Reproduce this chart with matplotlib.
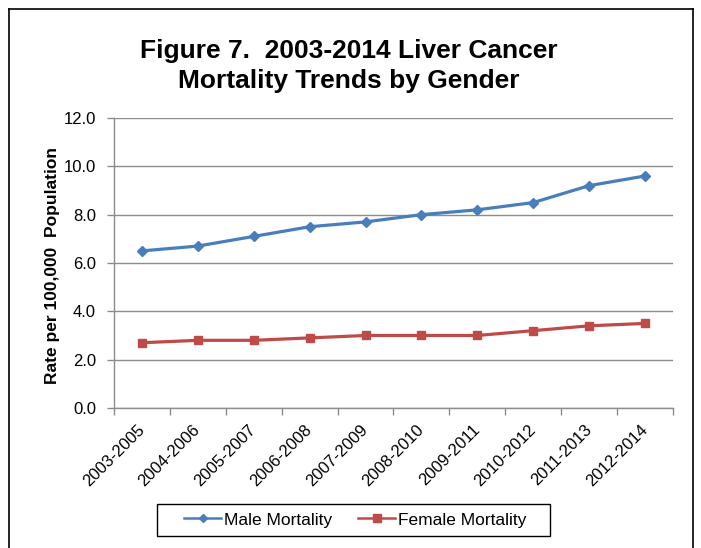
import matplotlib
matplotlib.use('Agg')
import matplotlib.pyplot as plt
from matplotlib.lines import Line2D
from matplotlib.patches import Rectangle

plt.rcParams['font.family'] = ['Liberation Sans', 'DejaVu Sans']

# data
periods = ['2003-2005', '2004-2006', '2005-2007', '2006-2008', '2007-2009',
           '2008-2010', '2009-2011', '2010-2012', '2011-2013', '2012-2014']
male = [6.5, 6.7, 7.1, 7.5, 7.7, 8.0, 8.2, 8.5, 9.2, 9.6]
female = [2.7, 2.8, 2.8, 2.9, 3.0, 3.0, 3.0, 3.2, 3.4, 3.5]
yticks = [0, 2, 4, 6, 8, 10, 12]

fig = plt.figure(figsize=(7.01, 5.48), dpi=100)
ax = fig.add_axes([0.1626, 0.2555, 0.7974, 0.5292])

x = list(range(len(periods)))
ax.plot(x, male, color='#4A7EBB', lw=2.3, marker='D', ms=5.5, label='Male Mortality')
ax.plot(x, female, color='#BE4B48', lw=2.3, marker='s', ms=6, label='Female Mortality')

ax.set_xlim(-0.5, len(periods) - 0.5)
ax.set_ylim(0, 12)
ax.set_yticks(yticks)
ax.set_yticklabels(['%.1f' % v for v in yticks], fontsize=12)
ax.grid(axis='y', color='#8C8C8C', lw=1)
ax.set_axisbelow(True)

ax.set_xticks(x)
ax.set_xticklabels(periods, rotation=45, ha='right', va='center',
                   rotation_mode='anchor', fontsize=12)
ax.set_xticks([i - 0.5 for i in range(len(periods) + 1)], minor=True)
ax.tick_params(axis='x', which='major', length=0, pad=14)
ax.tick_params(axis='x', which='minor', length=5, color='#8C8C8C', width=1)
ax.tick_params(axis='y', length=5, color='#8C8C8C', width=1, pad=8)

for s in ['top', 'right']:
    ax.spines[s].set_visible(False)
for s in ['left', 'bottom']:
    ax.spines[s].set_color('#8C8C8C')
    ax.spines[s].set_linewidth(1)

ax.set_ylabel('Rate per 100,000  Population', fontsize=12.5, fontweight='bold')
ax.yaxis.set_label_coords(-0.0966, 0.49)

fig.text(0.497, 0.8796, 'Figure 7.  2003-2014 Liver Cancer\nMortality Trends by Gender',
         ha='center', va='center', fontsize=19, fontweight='bold', linespacing=1.33)

# legend (frame drawn separately)
h1 = Line2D([], [], color='#4A7EBB', lw=1.8, marker='D', ms=4.5)
h2 = Line2D([], [], color='#BE4B48', lw=1.8, marker='s', ms=5.5)
fig.legend([h1, h2], ['Male Mortality', 'Female Mortality'], loc='center',
           bbox_to_anchor=(0.5071, 0.0511), ncol=2, fontsize=12.5, frameon=False,
           handlelength=2.13, handletextpad=0.17, columnspacing=1.5, borderpad=0)
fig.add_artist(Rectangle((157 / 701, 1 - 536 / 548), 393 / 701, 32 / 548,
                         transform=fig.transFigure, fill=False, edgecolor='black', lw=1))

# chart border
bx0, bx1, by1 = 9 / 701, 693 / 701, 1 - 9 / 548
fig.add_artist(Line2D([bx0, bx1], [by1, by1], transform=fig.transFigure, color='black', lw=1.2))
fig.add_artist(Line2D([bx0, bx0], [by1, -0.01], transform=fig.transFigure, color='black', lw=1.2))
fig.add_artist(Line2D([bx1, bx1], [by1, -0.01], transform=fig.transFigure, color='black', lw=1.2))

fig.savefig('out.png', dpi=100)
